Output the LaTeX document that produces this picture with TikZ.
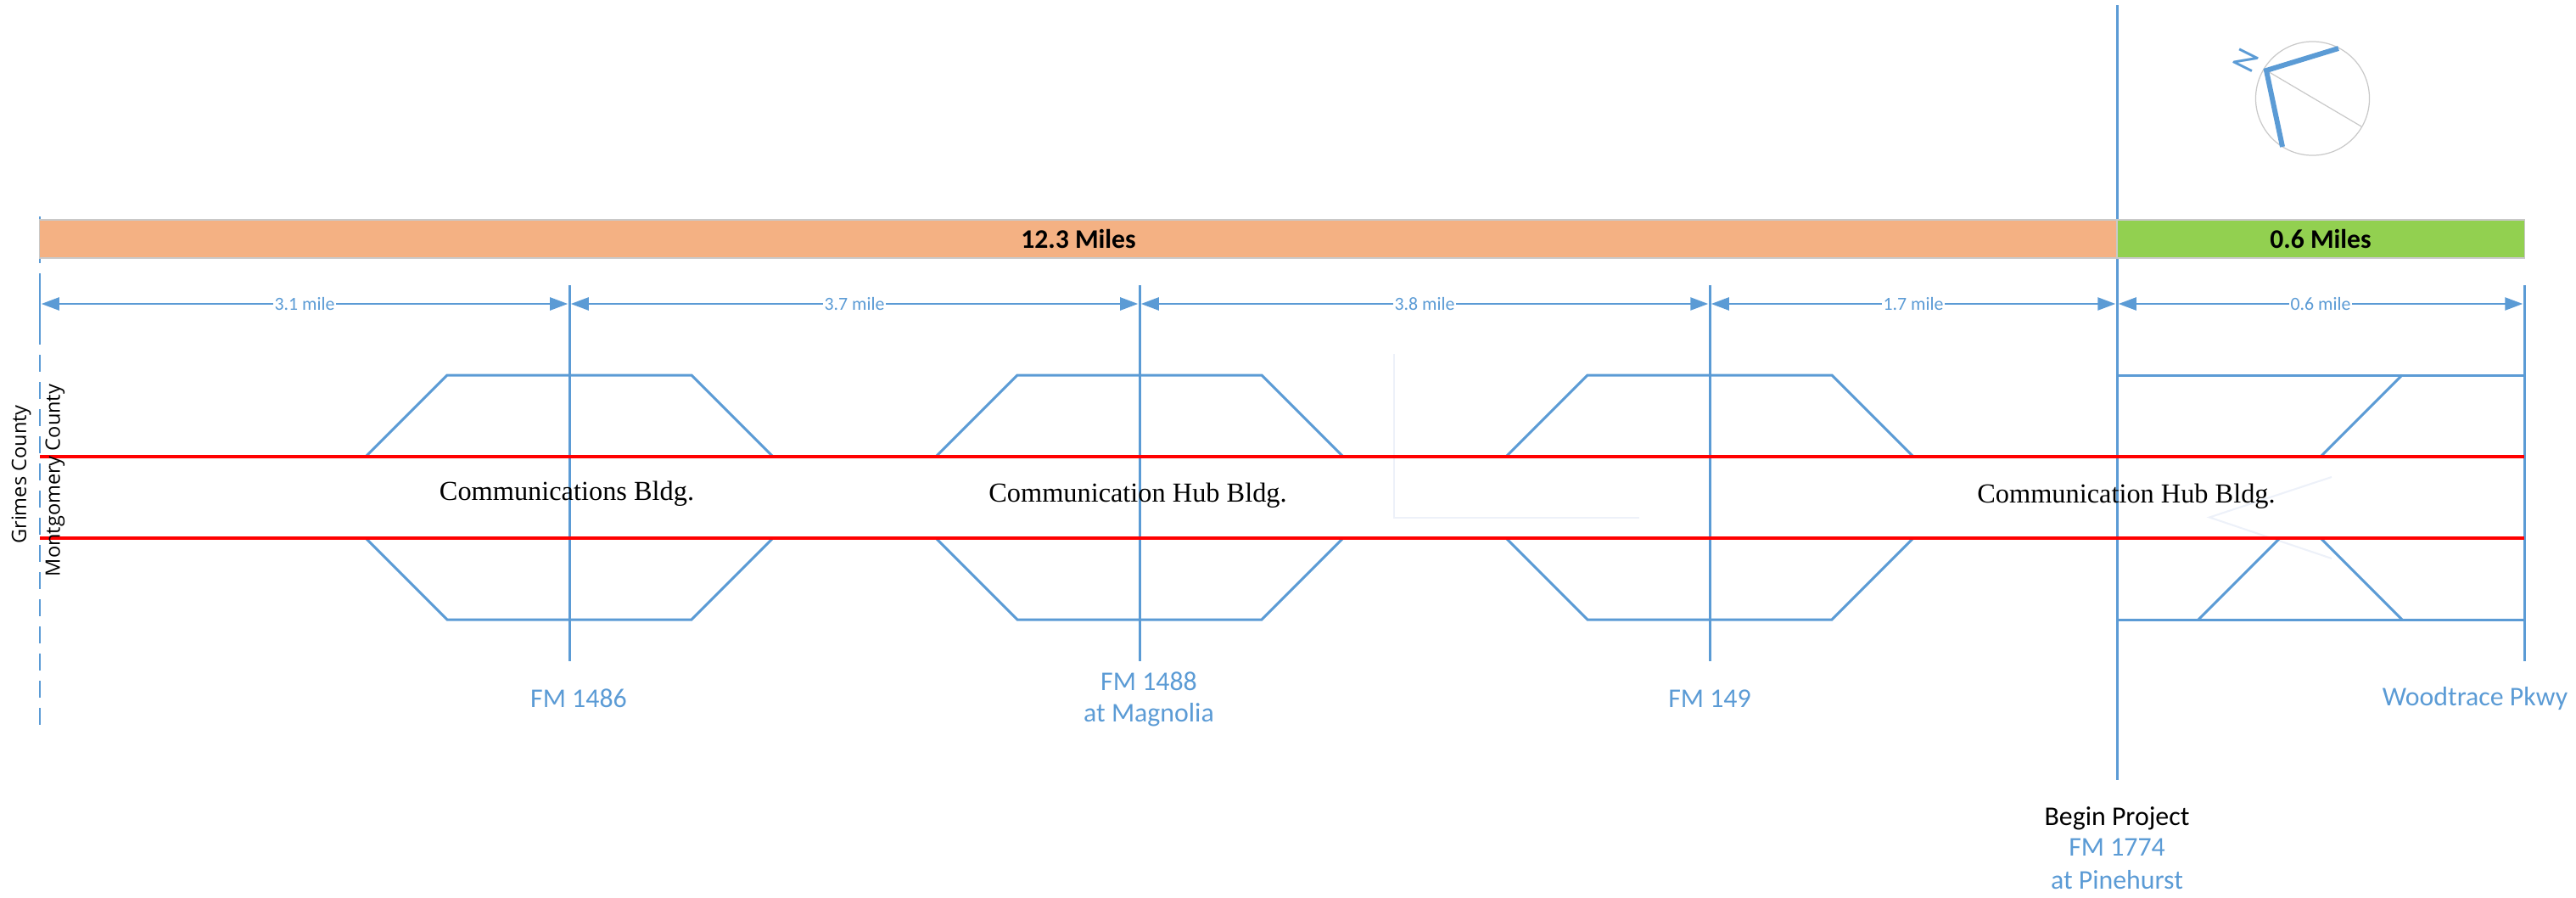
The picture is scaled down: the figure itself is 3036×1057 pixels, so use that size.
\documentclass[tikz,border=0pt]{standalone}
\usepackage{fontspec}
\usepackage{tikz}
\usetikzlibrary{arrows.meta}
\setmainfont{Carlito}
\newfontfamily\countyfont{Open Sans}
\newfontfamily\bldgfont{Liberation Serif}
\definecolor{road_blue}{HTML}{5B9BD5}
\definecolor{road_red}{HTML}{FF0000}
\definecolor{bar_orange}{HTML}{F4B183}
\definecolor{bar_green}{HTML}{92D050}
\definecolor{bar_edge}{HTML}{C9C9C9}
\definecolor{faint_line}{HTML}{EDF1F9}

\begin{document}
\begin{tikzpicture}[
    x=0.01cm,
    y=-0.01cm,
    road_line/.style={draw, road_blue, line width=0.85pt},
    red_line/.style={draw, road_red, line width=1.05pt},
    faint_style/.style={draw, faint_line, line width=0.6pt},
    dim_arrow/.style={road_line, line width=0.7pt, {Triangle[length=2.1mm, width=1.5mm]}-{Triangle[length=2.1mm, width=1.5mm]}, shorten <=0.5pt, shorten >=0.5pt},
    dim_label/.style={fill=white, text=road_blue, inner sep=0.5pt, font=\fontsize{6.2}{7}\selectfont},
    mile_bar/.style={rectangle, draw=bar_edge, line width=0.35pt, minimum height=0.45cm, inner sep=0pt, font=\fontsize{9}{10}\selectfont\bfseries},
    road_label/.style={text=road_blue, inner sep=0pt, font=\fontsize{9.05}{11}\selectfont},
    bldg_label/.style={inner sep=0pt, font=\fontsize{9.2}{10}\selectfont\bldgfont},
    county_label/.style={rotate=90, inner sep=0pt, font=\fontsize{6.7}{8}\selectfont\countyfont},
    compass_disk/.style={circle, draw=bar_edge, line width=0.35pt, minimum size=1.34cm, inner sep=0pt},
    compass_arm/.style={road_line, line width=1.7pt}
]
  \useasboundingbox (0,0) rectangle (3036,1057);
  % Faint leftovers under the roads
  \path[faint_style] (1643,417) -- (1643,610) -- (1932,610);
  \path[faint_style] (2748,562) -- (2604,609.5) -- (2748,658);
  % Cross streets
  \coordinate (begin-top) at (2495,6);
  \coordinate (begin-bot) at (2495,919);
  \draw[road_line] (begin-top) -- (begin-bot);
  \foreach \xPos/\tickName in {671/a, 1343/b, 2015/c, 2975/d} {
    \coordinate (tick-\tickName-top) at (\xPos,336);
    \coordinate (tick-\tickName-bot) at (\xPos,779);
    \draw[road_line] (tick-\tickName-top) -- (tick-\tickName-bot);
  }
  % County line
  \coordinate (county-stub-top) at (47,255);
  \coordinate (county-stub-bot) at (47,310);
  \coordinate (county-tick-top) at (47,322);
  \coordinate (county-tick-bot) at (47,406);
  \coordinate (county-dash-top) at (47,418);
  \coordinate (county-dash-bot) at (47,854);
  \draw[road_line] (county-stub-top) -- (county-stub-bot);
  \draw[road_line] (county-tick-top) -- (county-tick-bot);
  \draw[road_line, dash pattern=on 5.69pt off 3.41pt] (county-dash-top) -- (county-dash-bot);
  % Mile bars
  \node[mile_bar, fill=bar_orange, minimum width=24.48cm] (bar-long) at (1271,281.5) {12.3 Miles};
  \node[mile_bar, fill=bar_green, minimum width=4.8cm] (bar-short) at (2735,281.5) {0.6 Miles};
  % Ramps at each crossing
  \foreach \xPos in {671,1343,2015} {
    \draw[road_line] (\xPos-240,538) -- (\xPos-144,442) -- (\xPos+144,442) -- (\xPos+240,538);
    \draw[road_line] (\xPos-240,634) -- (\xPos-144,730) -- (\xPos+144,730) -- (\xPos+240,634);
  }
  \draw[road_line] (2495,442) -- (2975,442);
  \draw[road_line] (2495,730) -- (2975,730);
  \draw[road_line] (2831,442) -- (2735,538);
  \draw[road_line] (2735,634) -- (2831,730);
  \draw[road_line] (2687,634) -- (2591,730);
  % Main lanes
  \foreach \yPos/\laneName in {538/top, 634/bot} {
    \coordinate (lane-\laneName-w) at (47,\yPos);
    \coordinate (lane-\laneName-e) at (2975,\yPos);
    \draw[red_line] (lane-\laneName-w) -- (lane-\laneName-e);
  }
  % Distances between the cross streets
  \foreach \xPos/\dimName in {47/a, 671/b, 1343/c, 2015/d, 2495/e, 2975/f} {
    \coordinate (dim-\dimName) at (\xPos,358);
  }
  \foreach \dimFrom/\dimTo/\miles in {a/b/3.1, b/c/3.7, c/d/3.8, d/e/1.7, e/f/0.6} {
    \draw[dim_arrow] (dim-\dimFrom) -- node[dim_label] (dim-text-\dimFrom) {\miles\ mile} (dim-\dimTo);
  }
  % Street names
  \node[road_label] (street-a) at (682,823) {FM 1486};
  \node[road_label] (street-b1) at (1354,803) {FM 1488};
  \node[road_label] (street-b2) at (1354,842) {at Magnolia};
  \node[road_label] (street-c) at (2015,823) {FM 149};
  \node[road_label] (street-d) at (2917,823) {Woodtrace Pkwy};
  \node[road_label, text=black] (street-e0) at (2495,964) {Begin Project};
  \node[road_label] (street-e1) at (2495,998) {FM 1774};
  \node[road_label] (street-e2) at (2495,1037) {at Pinehurst};
  % Buildings
  \node[bldg_label] (bldg-a) at (668,582) {Communications Bldg.};
  \node[bldg_label] (bldg-b) at (1341,584) {Communication Hub Bldg.};
  \node[bldg_label] (bldg-c) at (2506,585) {Communication Hub Bldg.};
  % Counties
  \node[county_label] (county-grimes) at (25,559) {Grimes County};
  \node[county_label] (county-mont) at (65,566) {Montgomery County};
  % North arrow
  \node[compass_disk] (compass) at (2725.5,116) {};
  \coordinate (compass-c) at (2671,83);
  \coordinate (compass-e) at (2756,57);
  \coordinate (compass-s) at (2690,173);
  \coordinate (compass-t) at (2783,149);
  \draw[bar_edge, line width=0.35pt] (compass-c) -- (compass-t);
  \draw[compass_arm, line join=miter] (compass-e) -- (compass-c) -- (compass-s);
  \node[text=road_blue, inner sep=0pt, rotate=-116.5, font=\fontsize{11}{12}\selectfont] (compass-n) at (2647.5,71) {N};
\end{tikzpicture}
\end{document}
